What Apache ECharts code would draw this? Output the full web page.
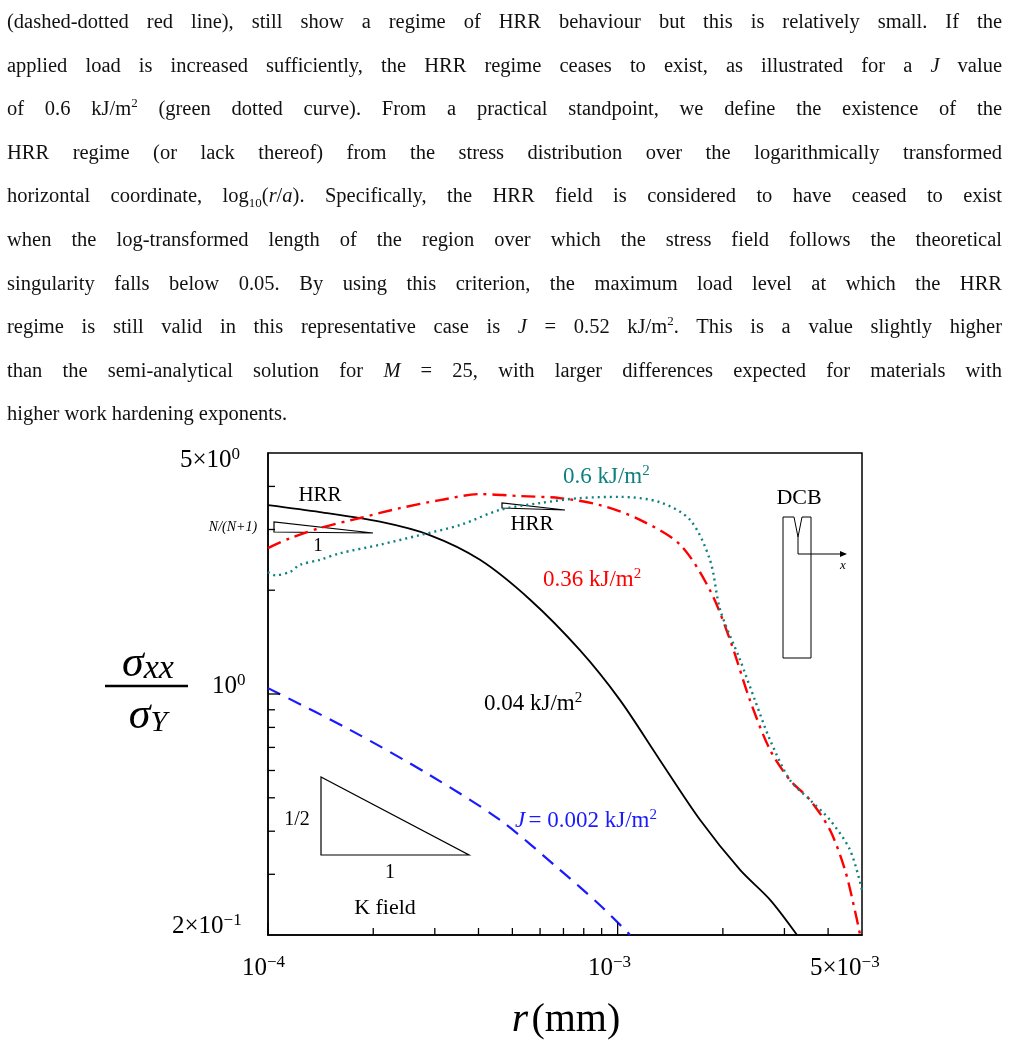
<!DOCTYPE html>
<html><head><meta charset="utf-8">
<script src="https://cdn.jsdelivr.net/npm/echarts@6/dist/echarts.min.js"></script>
<style>
body{margin:0;background:#fff;}
#txt{position:absolute;left:7px;top:0;width:995px;font-family:"Liberation Serif","DejaVu Serif",serif;font-size:20.5px;color:#111;}
#txt div{height:43.6px;line-height:43.6px;text-align:justify;text-align-last:justify;white-space:nowrap;}
#txt div.last{text-align-last:left;}
#c{position:absolute;left:0;top:0;width:1009px;height:1050px;}
</style></head><body>
<div id="c"></div>
<div id="txt">
<div>(dashed-dotted red line), still show a regime of HRR behaviour but this is relatively small. If the</div>
<div>applied load is increased sufficiently, the HRR regime ceases to exist, as illustrated for a <i>J</i> value</div>
<div>of 0.6 kJ/m<sup style="font-size:13px;line-height:0">2</sup> (green dotted curve). From a practical standpoint, we define the existence of the</div>
<div>HRR regime (or lack thereof) from the stress distribution over the logarithmically transformed</div>
<div>horizontal coordinate, log<sub style="font-size:13px;line-height:0">10</sub>(<i>r</i>/<i>a</i>). Specifically, the HRR field is considered to have ceased to exist</div>
<div>when the log-transformed length of the region over which the stress field follows the theoretical</div>
<div>singularity falls below 0.05. By using this criterion, the maximum load level at which the HRR</div>
<div>regime is still valid in this representative case is <i>J</i> = 0.52 kJ/m<sup style="font-size:13px;line-height:0">2</sup>. This is a value slightly higher</div>
<div>than the semi-analytical solution for <i>M</i> = 25, with larger differences expected for materials with</div>
<div class="last">higher work hardening exponents.</div>
</div>
<script>
const blackX=[1e-4,1.408e-4,2.09e-4,2.90e-4,4.04e-4,5.61e-4,7.80e-4,1.016e-3,1.32e-3,1.72e-3,2.24e-3,2.73e-3,3.26e-3];
const blackY=[3.53,3.37,3.16,2.89,2.45,1.88,1.34,0.96,0.644,0.432,0.309,0.253,0.2];
const blueX=[1e-4,1.716e-4,2.90e-4,4.61e-4,6.84e-4,8.91e-4,1.086e-3];
const blueY=[1.04,0.787,0.582,0.431,0.309,0.244,0.2];
const redX=[1e-4,1.156e-4,1.408e-4,1.833e-4,2.385e-4,3.105e-4,4.04e-4,5.26e-4,6.84e-4,8.91e-4,1.159e-3,1.509e-3,1.837e-3,2.097e-3,2.39e-3,2.73e-3,3.11e-3,3.55e-3,4.05e-3,4.47e-3,4.77e-3,4.94e-3];
const redY=[2.65,2.83,3.03,3.24,3.46,3.65,3.80,3.75,3.70,3.53,3.20,2.71,2.00,1.435,0.96,0.688,0.563,0.493,0.403,0.309,0.236,0.2];
const tealX=[1e-4,1.047e-4,1.156e-4,1.235e-4,1.408e-4,1.607e-4,2.09e-4,2.72e-4,3.54e-4,4.61e-4,6.0e-4,7.80e-4,1.016e-3,1.32e-3,1.611e-3,1.837e-3,1.966e-3,2.24e-3,2.47e-3,2.73e-3,3.11e-3,3.55e-3,4.05e-3,4.62e-3,5e-3];
const tealY=[2.26,2.21,2.26,2.37,2.45,2.56,2.71,2.89,3.09,3.42,3.58,3.70,3.73,3.60,3.20,2.45,1.75,1.255,0.96,0.735,0.563,0.493,0.431,0.353,0.27];
const xMajor=[1e-4,1e-3];
const xMinor=[2e-4,3e-4,4e-4,5e-4,6e-4,7e-4,8e-4,9e-4,2e-3,3e-3,4e-3];
const yMajor=[1];
const yMinor=[0.3,0.4,0.5,0.6,0.7,0.8,0.9,2,3,4];
const zip=(a,b)=>a.map((v,i)=>[v,b[i]]);
const F='"Liberation Serif","DejaVu Serif",serif';
const ch=echarts.init(document.getElementById('c'));
function ticks(vals,isX,len){
 return {type:'custom',silent:true,z:5,data:vals.map(v=>[v]),clip:false,
  renderItem:(p,api)=>{const v=api.value(0);
   const pt=isX?api.coord([v,0.2]):api.coord([1e-4,v]);
   return {type:'line',shape:isX?{x1:pt[0],y1:pt[1],x2:pt[0],y2:pt[1]-len}:{x1:pt[0],y1:pt[1],x2:pt[0]+len,y2:pt[1]},style:{stroke:'#000',lineWidth:1.3}};}};
}
const sup=(b,e)=>({type:'text',style:{text:'{b|'+b+'}{s|'+e+'}',rich:{b:{fontFamily:F,fontSize:25,fill:'#000'},s:{fontFamily:F,fontSize:17,verticalAlign:'top',padding:[0,0,12,0],fill:'#000'}}}});
function lbl(x,y,t,opt){return {type:'text',x,y,style:Object.assign({text:t,fontFamily:F,fontSize:22,fill:'#000',align:'center',verticalAlign:'middle'},opt||{})};}
const tex=(x,y,txt,col)=>({type:'text',x,y,style:{text:txt,rich:{n:{fontFamily:F,fontSize:23,fill:col},s:{fontFamily:F,fontSize:15,fill:col,verticalAlign:'top',padding:[0,0,12,0]},i:{fontFamily:F,fontStyle:'italic',fontSize:23,fill:col}},verticalAlign:'middle'}});
ch.setOption({
 animation:false,
 grid:{left:268,top:453,width:594,height:482},
 xAxis:{type:'log',min:1e-4,max:5e-3,axisLine:{onZero:false,lineStyle:{color:'#000',width:1.5}},axisTick:{show:false},axisLabel:{show:false},splitLine:{show:false}},
 yAxis:{type:'log',min:0.2,max:5,axisLine:{lineStyle:{color:'#000',width:1.5}},axisTick:{show:false},axisLabel:{show:false},splitLine:{show:false}},
 series:[
  {type:'line',data:zip(blackX,blackY),smooth:0.3,symbol:'none',lineStyle:{color:'#000',width:1.8}},
  {type:'line',data:zip(blueX,blueY),smooth:0.3,symbol:'none',lineStyle:{color:'#1a1aff',width:2.2,type:[14,9]}},
  {type:'line',data:zip(redX,redY),smooth:0.3,symbol:'none',lineStyle:{color:'#ff0000',width:2.4,type:[14,6,3,6]}},
  {type:'line',data:zip(tealX,tealY),smooth:0.3,symbol:'none',lineStyle:{color:'#0e8080',width:2.4,type:[2,4]}},
  ticks(xMajor,true,12),ticks(xMinor,true,7),ticks(yMajor,false,12),ticks(yMinor,false,7)
 ],
 graphic:[
  {type:'rect',shape:{x:268,y:453,width:594,height:482},style:{fill:'none',stroke:'#000',lineWidth:1.5}},
  Object.assign(sup('5×10','0'),{x:180,y:446}),
  Object.assign(sup('10','0'),{x:212,y:672}),
  Object.assign(sup('2×10','−1'),{x:172,y:912}),
  Object.assign(sup('10','−4'),{x:242,y:954}),
  Object.assign(sup('10','−3'),{x:588,y:954}),
  Object.assign(sup('5×10','−3'),{x:810,y:954}),
  {type:'text',x:566,y:1020,style:{text:'{i|r} {n|(mm)}',align:'center',verticalAlign:'middle',rich:{i:{fontFamily:F,fontStyle:'italic',fontSize:42,fill:'#000'},n:{fontFamily:F,fontSize:40,fill:'#000'}}}},
  {type:'text',x:148,y:664,style:{text:'{i|σ}{j|xx}',align:'center',verticalAlign:'middle',rich:{i:{fontFamily:F,fontStyle:'italic',fontSize:44},j:{fontFamily:F,fontStyle:'italic',fontSize:34,verticalAlign:'bottom'}}}},
  {type:'line',shape:{x1:105,y1:686,x2:188,y2:686},style:{stroke:'#000',lineWidth:2.5}},
  {type:'text',x:148,y:716,style:{text:'{i|σ}{j|Y}',align:'center',verticalAlign:'middle',rich:{i:{fontFamily:F,fontStyle:'italic',fontSize:44},j:{fontFamily:F,fontStyle:'italic',fontSize:30,verticalAlign:'bottom'}}}},
  lbl(320,495,'HRR',{fontSize:21}),
  lbl(233,527,'N/(N+1)',{fontSize:14,fontStyle:'italic'}),
  lbl(318,546,'1',{fontSize:19}),
  {type:'polygon',shape:{points:[[274,522],[274,532],[373,533]]},style:{fill:'none',stroke:'#000',lineWidth:1.2}},
  {type:'polygon',shape:{points:[[502,503],[502,508],[565,510]]},style:{fill:'none',stroke:'#000',lineWidth:1.2}},
  lbl(532,524,'HRR',{fontSize:21}),
  tex(563,477,'{n|0.6 kJ/m}{s|2}','#0e8080'),
  tex(543,580,'{n|0.36 kJ/m}{s|2}','#ff0000'),
  tex(484,704,'{n|0.04 kJ/m}{s|2}','#000'),
  tex(515,821,'{i|J} {n|= 0.002 kJ/m}{s|2}','#1a1aff'),
  lbl(799,498,'DCB',{fontSize:22}),
  {type:'polyline',shape:{points:[[794,517],[783,517],[783,658],[811,658],[811,517],[802,517],[798,537],[794,517]]},style:{fill:'none',stroke:'#000',lineWidth:1}},
  {type:'polyline',shape:{points:[[798,537],[798,554],[843,554]]},style:{fill:'none',stroke:'#000',lineWidth:1}},
  {type:'polygon',shape:{points:[[847,554],[840,551],[840,557]]},style:{fill:'#000'}},
  lbl(843,566,'x',{fontSize:13,fontStyle:'italic'}),
  {type:'polygon',shape:{points:[[321,777],[321,855],[469,855]]},style:{fill:'none',stroke:'#000',lineWidth:1.2}},
  lbl(297,820,'1/2',{fontSize:20}),
  lbl(390,873,'1',{fontSize:20}),
  lbl(385,908,'K field',{fontSize:22})
 ]
});
</script></body></html>
